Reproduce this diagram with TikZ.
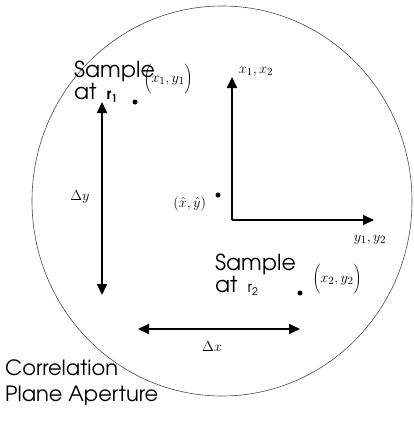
\documentclass[tikz,border=0pt]{standalone}
\usepackage{fontspec}
\newfontfamily\plainsans{texgyreadventor}[Extension=.otf,
  UprightFont=*-regular, BoldFont=*-bold]
\usetikzlibrary{arrows.meta,positioning}

\begin{document}
\begin{tikzpicture}[
  x=1pt, y=-1pt,
  txt/.style={font=\plainsans\fontsize{22}{20}\selectfont, inner sep=0pt,
    align=left, anchor=north west},
  mlabel/.style={font=\fontsize{15}{18}\selectfont, inner sep=0pt},
  arrow/.style={-{Triangle[length=11pt,width=10pt]}, line width=1.8pt},
  dimline/.style={{Triangle[length=11pt,width=10pt]}-{Triangle[length=11pt,width=10pt]},
    line width=1.8pt},
  spot/.style={circle, fill, inner sep=0pt, minimum size=5pt},
]
  \useasboundingbox (0,0) rectangle (414,423);

  % Aperture
  \draw[gray!60!black, line width=0.6pt] (222,201) ellipse [x radius=190, y radius=195];

  % Axes
  \coordinate (origin) at (232,220);
  \coordinate (xtip) at (232,77);
  \coordinate (ytip) at (374,220);
  \draw[arrow] (origin) -- (xtip);
  \draw[arrow] (origin) -- (ytip);
  \node[mlabel] (xlab) at (256,72) {$x_1,x_2$};
  \node[mlabel] (ylab) at (370,240) {$y_1,y_2$};

  % Estimated centre
  \node[spot] (hat) at (218,195) {};
  \node[mlabel, left=9pt of hat, yshift=-9pt] (hatlab) {$(\hat{x},\hat{y})$};

  % Sample 1
  \node[txt] (samp1) at (74,61)
    {Sample\\at\hspace{0.45em}{\bfseries\fontsize{15}{15}\selectfont r\textsubscript{1}}};
  \node[spot] (dot1) at (135,102) {};
  \node[mlabel] (lab1) at (168,79) {$\Biggl(x_1,y_1\Biggr)$};

  % Sample 2
  \node[txt] (samp2) at (215,254)
    {Sample\\at\hspace{0.45em}{\fontsize{15}{15}\selectfont r\textsubscript{2}}};
  \node[spot] (dot2) at (300,293) {};
  \node[mlabel] (lab2) at (337,279) {$\Biggl(x_2,y_2\Biggr)$};

  % Separations
  \coordinate (dytop) at (102,102);
  \coordinate (dybot) at (102,295);
  \draw[dimline] (dytop) -- (dybot);
  \node[mlabel] (dylab) at (80,197) {$\Delta y$};
  \coordinate (dxleft) at (138,329);
  \coordinate (dxright) at (300,329);
  \draw[dimline] (dxleft) -- (dxright);
  \node[mlabel] (dxlab) at (212,347) {$\Delta x$};

  % Caption
  \node[txt, font=\plainsans\fontsize{21}{26}\selectfont] (aperture) at (5,360)
    {Correlation\\Plane Aperture};
\end{tikzpicture}
\end{document}
